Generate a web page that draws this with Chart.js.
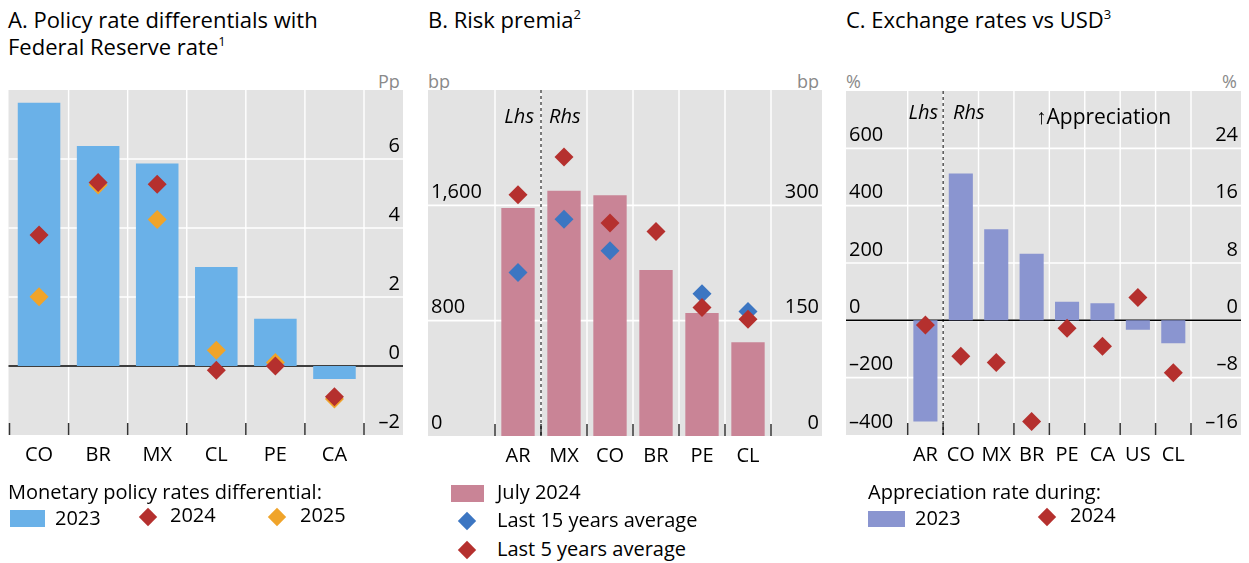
<!DOCTYPE html>
<html>
<head>
<meta charset="utf-8">
<script src="https://cdn.jsdelivr.net/npm/chart.js@4.4.1/dist/chart.umd.min.js"></script>
<style>
  body { margin: 0; width: 1249px; height: 563px; position: relative; overflow: hidden; background: #fff; font-family: "Open Sans", sans-serif; color: #000; }
  .t { position: absolute; white-space: nowrap; }
  .title { font-size: 22px; line-height: 27px; }
  .title sup { font-size: 13px; vertical-align: 9px; line-height: 0; }
  .unit { font-size: 18px; line-height: 18px; color: #8a8a8a; }
  .leg { font-size: 20px; line-height: 20px; }
  .box { position: absolute; }
  .dia { position: absolute; width: 13px; height: 13px; transform: translate(-50%, -50%) rotate(45deg); }
  canvas { position: absolute; }
</style>
</head>
<body>

<div class="t title" style="left:8px; top:6px;">A. Policy rate differentials with<br>Federal Reserve rate<sup>1</sup></div>
<div class="t title" style="left:428px; top:6px;">B. Risk premia<sup>2</sup></div>
<div class="t title" style="left:846px; top:6px;">C. Exchange rates vs USD<sup>3</sup></div>

<div class="t unit" style="left:378px; top:72px;">Pp</div>
<div class="t unit" style="left:428px; top:72px;">bp</div>
<div class="t unit" style="left:797px; top:72px;">bp</div>
<div class="t unit" style="left:846px; top:72px;">%</div>
<div class="t unit" style="left:1222px; top:72px;">%</div>

<canvas id="chartA" width="412" height="400" style="left:0px; top:80px;"></canvas>
<canvas id="chartB" width="410" height="400" style="left:420px; top:80px;"></canvas>
<canvas id="chartC" width="414" height="400" style="left:835px; top:80px;"></canvas>

<div class="t" style="left:1036px; top:106px; font-size:21px; line-height:21px;">&#8593;Appreciation</div>

<!-- legend A -->
<div class="t leg" style="left:8px; top:482px;">Monetary policy rates differential:</div>
<div class="box" style="left:10px; top:510px; width:35px; height:17px; background:#6ab1e8;"></div>
<div class="t leg" style="left:55px; top:508px;">2023</div>
<div class="dia" style="left:148px; top:517px; background:#b5302e;"></div>
<div class="t leg" style="left:170px; top:505px;">2024</div>
<div class="dia" style="left:277px; top:517px; background:#f0a42a;"></div>
<div class="t leg" style="left:300px; top:505px;">2025</div>

<!-- legend B -->
<div class="box" style="left:451px; top:485px; width:33px; height:17px; background:#c98496;"></div>
<div class="t leg" style="left:497px; top:482px;">July 2024</div>
<div class="dia" style="left:467px; top:521px; background:#3c76c2;"></div>
<div class="t leg" style="left:497px; top:510px;">Last 15 years average</div>
<div class="dia" style="left:467px; top:550px; background:#b5302e;"></div>
<div class="t leg" style="left:497px; top:539px;">Last 5 years average</div>

<!-- legend C -->
<div class="t leg" style="left:868px; top:482px;">Appreciation rate during:</div>
<div class="box" style="left:868px; top:511px; width:37px; height:16px; background:#8a95d0;"></div>
<div class="t leg" style="left:915px; top:508px;">2023</div>
<div class="dia" style="left:1047px; top:517px; background:#b5302e;"></div>
<div class="t leg" style="left:1070px; top:505px;">2024</div>

<script>
// panel A: policy rate differentials vs Fed, percentage points
const catsA = ['CO', 'BR', 'MX', 'CL', 'PE', 'CA'];
const rateDiff2023 = [7.63, 6.38, 5.87, 2.87, 1.37, -0.38];
const rateDiff2024 = [3.80, 5.32, 5.27, -0.12, 0.00, -0.89];
const rateDiff2025 = [2.01, 5.25, 4.25, 0.46, 0.10, -0.96];
const ticksA = [-2, 0, 2, 4, 6];

// panel B: risk premia, bp (AR on the left axis, the rest on the right)
const catsB = ['AR', 'MX', 'CO', 'BR', 'PE', 'CL'];
const july2024 = [1582, 319, 313, 216, 160, 122];
const avg15y = [1134, 282, 241, null, 185, 162];
const avg5y = [1674, 363, 277, 266, 167, 152];
const ticksBLeft = [0, 800, 1600];
const ticksBRight = [0, 150, 300];

// panel C: exchange rates vs USD, % (AR on the left axis)
const catsC = ['AR', 'CO', 'MX', 'BR', 'PE', 'CA', 'US', 'CL'];
const appr2023 = [-353, 20.5, 12.7, 9.3, 2.6, 2.4, -1.3, -3.2];
const appr2024 = [-16, -5.0, -5.9, -14.1, -1.1, -3.6, 3.2, -7.3];
const ticksCLeft = [-400, -200, 0, 200, 400, 600];
const ticksCRight = [-16, -8, 0, 8, 16, 24];

const RED = '#b5302e';
const ORANGE = '#f0a42a';
const BLUE_DOT = '#3c76c2';

Chart.defaults.font.family = '"Open Sans", sans-serif';
Chart.defaults.font.size = 20;
Chart.defaults.color = '#000';

const fmt = (v) => {
    let s = Math.abs(v).toLocaleString('en-US');
    return v < 0 ? '\u2013' + s : s;
};

const lhsPart = (arr, n) => arr.map((v, i) => i < n ? v : null);
const rhsPart = (arr, n) => arr.map((v, i) => i < n ? null : v);

// grey panel, white grid, inner ticks, zero line, lhs/rhs split
const panelDeco = {
    id: 'panelDeco',
    beforeDraw(chart, args, o) {
        const { ctx, chartArea: a, scales } = chart;
        const x = scales.x;
        const g = scales[o.gridAxis];
        const left = scales.yL ? scales.yL.left - 3 : a.left - 1;
        const right = scales.yR.right + 3;
        const n = x.ticks.length;

        ctx.save();
        ctx.fillStyle = '#e3e3e3';
        ctx.fillRect(left, a.top, right - left, a.bottom - a.top);

        ctx.strokeStyle = '#fff';
        ctx.lineWidth = 1.6;
        g.ticks.forEach(t => {
            const py = g.getPixelForValue(t.value);
            if (py > a.top + 1 && py < a.bottom - 1) {
                ctx.beginPath();
                ctx.moveTo(left, py);
                ctx.lineTo(right, py);
                ctx.stroke();
            }
        });
        ctx.lineWidth = 1.4;
        for (let i = o.skipFirst ? 1 : 0; i <= n; i++) {
            const px = x.getPixelForValue(i - 0.5);
            ctx.beginPath();
            ctx.moveTo(px, a.top);
            ctx.lineTo(px, a.bottom);
            ctx.stroke();
        }
        ctx.restore();
    },
    beforeDatasetsDraw(chart, args, o) {
        const { ctx, chartArea: a, scales } = chart;
        const x = scales.x;
        const g = scales[o.gridAxis];
        const left = scales.yL ? scales.yL.left - 3 : a.left - 1;
        const right = scales.yR.right + 3;
        const n = x.ticks.length;

        ctx.save();
        ctx.strokeStyle = '#333';
        ctx.lineWidth = 1.5;
        for (let i = 0; i <= n; i++) {
            const px = x.getPixelForValue(i - 0.5);
            ctx.beginPath();
            ctx.moveTo(px, a.bottom);
            ctx.lineTo(px, a.bottom - 12);
            ctx.stroke();
        }

        if (o.zero) {
            const py = g.getPixelForValue(0);
            ctx.strokeStyle = '#000';
            ctx.lineWidth = 1.5;
            ctx.beginPath();
            ctx.moveTo(left, py);
            ctx.lineTo(right, py);
            ctx.stroke();
        }

        if (o.split) {
            const px = x.getPixelForValue(o.split - 0.5);
            ctx.strokeStyle = '#000';
            ctx.lineWidth = 1;
            ctx.setLineDash([3, 3]);
            ctx.beginPath();
            ctx.moveTo(px, a.top);
            ctx.lineTo(px, a.bottom);
            ctx.stroke();
            ctx.setLineDash([]);

            ctx.fillStyle = '#000';
            ctx.font = 'italic 20px "Open Sans", sans-serif';
            ctx.textBaseline = 'middle';
            ctx.textAlign = 'right';
            ctx.fillText('Lhs', px - o.gapL, a.top + o.textY);
            ctx.textAlign = 'left';
            ctx.fillText('Rhs', px + o.gapR, a.top + o.textY);
        }
        ctx.restore();
    }
};

const yAxis = (pos, min, max, step, shown, width) => ({
    position: pos,
    min: min,
    max: max,
    grid: { display: false },
    border: { display: false },
    ticks: {
        stepSize: step,
        autoSkip: false,
        padding: 0,
        crossAlign: 'far',
        labelOffset: -13,
        callback: (v) => shown.includes(v) ? fmt(v) : ''
    },
    afterFit(s) {
        s.width = width;
        s.paddingTop = 0;
        s.paddingBottom = 0;
    }
});

const xAxis = (height) => ({
    type: 'category',
    offset: true,
    grid: { display: false },
    border: { display: false },
    ticks: { autoSkip: false, maxRotation: 0, padding: 0 },
    afterFit(s) {
        s.height = height;
        s.paddingLeft = 0;
        s.paddingRight = 0;
    }
});

const dots = (data, color, axis, order) => ({
    type: 'line',
    data: data,
    yAxisID: axis,
    showLine: false,
    pointStyle: 'rectRot',
    pointRadius: 9.5,
    pointBorderWidth: 0,
    pointBackgroundColor: color,
    backgroundColor: color,
    borderColor: color,
    order: order
});

const bars = (data, color, axis, pct) => ({
    type: 'bar',
    data: data,
    yAxisID: axis,
    backgroundColor: color,
    borderWidth: 0,
    grouped: false,
    barPercentage: 1,
    categoryPercentage: pct,
    order: 3
});

const baseOptions = (padding, scales, deco) => ({
    responsive: false,
    animation: false,
    events: [],
    layout: { padding: padding },
    plugins: {
        legend: { display: false },
        tooltip: { enabled: false },
        panelDeco: deco
    },
    scales: scales
});

new Chart(document.getElementById('chartA'), {
    type: 'bar',
    data: {
        labels: catsA,
        datasets: [
            bars(rateDiff2023, '#6ab1e8', 'yR', 0.72),
            dots(rateDiff2025, ORANGE, 'yR', 2),
            dots(rateDiff2024, RED, 'yR', 1)
        ]
    },
    options: baseOptions(
        { left: 9, right: 12, top: 10, bottom: 0 },
        { x: xAxis(45), yR: yAxis('right', -2, 8, 2, ticksA, 36) },
        { gridAxis: 'yR', zero: true, skipFirst: true }
    ),
    plugins: [panelDeco]
});

new Chart(document.getElementById('chartB'), {
    type: 'bar',
    data: {
        labels: catsB,
        datasets: [
            bars(lhsPart(july2024, 1), '#c98496', 'yL', 0.725),
            bars(rhsPart(july2024, 1), '#c98496', 'yR', 0.725),
            dots(lhsPart(avg15y, 1), BLUE_DOT, 'yL', 2),
            dots(rhsPart(avg15y, 1), BLUE_DOT, 'yR', 2),
            dots(lhsPart(avg5y, 1), RED, 'yL', 1),
            dots(rhsPart(avg5y, 1), RED, 'yR', 1)
        ]
    },
    options: baseOptions(
        { left: 11, right: 11, top: 10, bottom: 0 },
        {
            x: xAxis(44),
            yL: yAxis('left', 0, 2400, 800, ticksBLeft, 64),
            yR: yAxis('right', 0, 450, 150, ticksBRight, 48)
        },
        { gridAxis: 'yL', split: 1, gapL: 7, gapR: 8, textY: 27 }
    ),
    plugins: [panelDeco]
});

new Chart(document.getElementById('chartC'), {
    type: 'bar',
    data: {
        labels: catsC,
        datasets: [
            bars(lhsPart(appr2023, 1), '#8a95d0', 'yL', 0.68),
            bars(rhsPart(appr2023, 1), '#8a95d0', 'yR', 0.68),
            dots(lhsPart(appr2024, 1), RED, 'yL', 1),
            dots(rhsPart(appr2024, 1), RED, 'yR', 1)
        ]
    },
    options: baseOptions(
        { left: 14, right: 11, top: 11, bottom: 0 },
        {
            x: xAxis(45),
            yL: yAxis('left', -400, 800, 200, ticksCLeft, 58.7),
            yR: yAxis('right', -16, 32, 8, ticksCRight, 47)
        },
        { gridAxis: 'yL', zero: true, split: 1, gapL: 5, gapR: 10, textY: 22 }
    ),
    plugins: [panelDeco]
});
</script>
</body>
</html>
